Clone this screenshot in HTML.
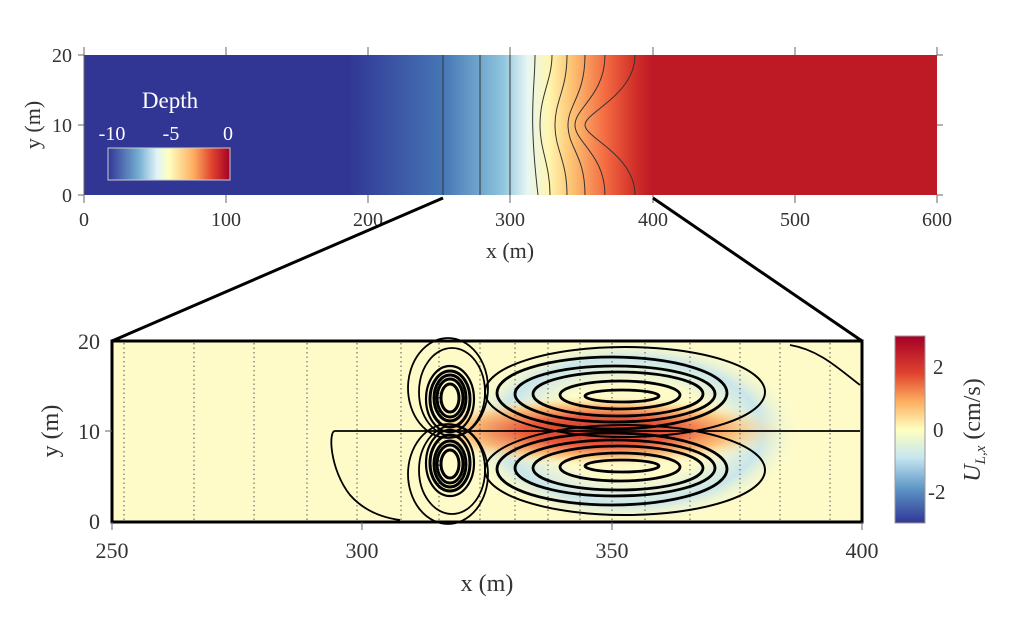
<!DOCTYPE html>
<html><head><meta charset="utf-8"><style>
html,body{margin:0;padding:0;background:#fff;}
svg{display:block;font-family:"Liberation Serif",serif;}
</style></head><body>
<svg width="1023" height="628" viewBox="0 0 1023 628" xmlns="http://www.w3.org/2000/svg">
<defs>
<linearGradient id="dep" x1="84" x2="937" y1="0" y2="0" gradientUnits="userSpaceOnUse">
<stop offset="0" stop-color="#313695"/>
<stop offset="0.31" stop-color="#313695"/>
<stop offset="0.42" stop-color="#4575b4"/>
<stop offset="0.49" stop-color="#8cc3dc"/>
<stop offset="0.52" stop-color="#e8f6f4"/>
<stop offset="0.545" stop-color="#fef6b0"/>
<stop offset="0.57" stop-color="#fdc675"/>
<stop offset="0.61" stop-color="#f46d43"/>
<stop offset="0.645" stop-color="#d33129"/>
<stop offset="0.665" stop-color="#bd1a26"/>
<stop offset="1" stop-color="#bd1a26"/>
</linearGradient>
<linearGradient id="dcb" x1="0" x2="1" y1="0" y2="0">
<stop offset="0" stop-color="#313695"/>
<stop offset="0.25" stop-color="#74add1"/>
<stop offset="0.4" stop-color="#e0f3f8"/>
<stop offset="0.5" stop-color="#ffffbf"/>
<stop offset="0.7" stop-color="#fdae61"/>
<stop offset="0.85" stop-color="#e0442f"/>
<stop offset="1" stop-color="#a50026"/>
</linearGradient>
<linearGradient id="ucb" x1="0" x2="0" y1="0" y2="1">
<stop offset="0" stop-color="#a50026"/>
<stop offset="0.2" stop-color="#e0442f"/>
<stop offset="0.35" stop-color="#fdae61"/>
<stop offset="0.5" stop-color="#ffffbf"/>
<stop offset="0.65" stop-color="#c6e6f0"/>
<stop offset="0.82" stop-color="#5b94c4"/>
<stop offset="1" stop-color="#313695"/>
</linearGradient>
<radialGradient id="jet" cx="600" cy="431" r="190" gradientUnits="userSpaceOnUse" gradientTransform="translate(600 431) scale(1 0.19) translate(-600 -431)">
<stop offset="0" stop-color="#d73027"/>
<stop offset="0.4" stop-color="#ea5a3a"/>
<stop offset="0.7" stop-color="#fdb56a" stop-opacity="0.85"/>
<stop offset="1" stop-color="#fefbc8" stop-opacity="0"/>
</radialGradient>
<radialGradient id="blu" cx="630" cy="431" r="170" gradientUnits="userSpaceOnUse" gradientTransform="translate(630 431) scale(1 0.55) translate(-630 -431)">
<stop offset="0.5" stop-color="#c8e6f0" stop-opacity="0"/>
<stop offset="0.78" stop-color="#c3e3ef" stop-opacity="0.9"/>
<stop offset="1" stop-color="#fefbc8" stop-opacity="0"/>
</radialGradient>
</defs>

<rect x="84" y="55" width="853" height="140" fill="url(#dep)"/>
<g stroke="#333" stroke-width="1" fill="none">
<line x1="443" y1="55" x2="443" y2="195"/>
<line x1="480" y1="55" x2="480" y2="195"/>
<line x1="510" y1="55" x2="510" y2="195"/>
<path d="M535 55 C535 90 528 110 538 195"/>
<path d="M552 55 C552 80 540 95 540 125 C540 150 550 165 550 195"/>
<path d="M567 55 C567 90 555 100 555 125 C555 150 567 160 567 195"/>
<path d="M585 55 C585 95 568 105 568 125 C568 148 585 155 585 195"/>
<path d="M605 55 C605 95 575 108 575 125 C575 142 605 155 605 195"/>
<path d="M635 55 C635 95 585 112 585 125 C585 138 635 155 635 195"/>
</g>
<g stroke="#666" stroke-width="1">
<line x1="84" y1="47" x2="84" y2="203"/>
<line x1="78" y1="55" x2="84" y2="55"/><line x1="78" y1="125" x2="84" y2="125"/><line x1="78" y1="195" x2="84" y2="195"/>
<line x1="937" y1="55" x2="943" y2="55"/><line x1="937" y1="125" x2="943" y2="125"/><line x1="937" y1="195" x2="943" y2="195"/>
<line x1="226" y1="47" x2="226" y2="55"/><line x1="368" y1="47" x2="368" y2="55"/><line x1="510" y1="47" x2="510" y2="55"/><line x1="653" y1="47" x2="653" y2="55"/><line x1="795" y1="47" x2="795" y2="55"/><line x1="937" y1="47" x2="937" y2="55"/>
<line x1="226" y1="195" x2="226" y2="203"/><line x1="368" y1="195" x2="368" y2="203"/><line x1="510" y1="195" x2="510" y2="203"/><line x1="653" y1="195" x2="653" y2="203"/><line x1="795" y1="195" x2="795" y2="203"/><line x1="937" y1="195" x2="937" y2="203"/>
</g>
<g font-size="20" fill="#333" text-anchor="middle">
<text x="84" y="226">0</text><text x="226" y="226">100</text><text x="368" y="226">200</text><text x="510" y="226">300</text><text x="653" y="226">400</text><text x="795" y="226">500</text><text x="937" y="226">600</text>
<text x="510" y="258" font-size="22">x (m)</text>
</g>
<g font-size="20" fill="#333" text-anchor="end">
<text x="72" y="62">20</text><text x="72" y="132">10</text><text x="72" y="202">0</text>
</g>
<text x="0" y="0" font-size="22" fill="#333" text-anchor="middle" transform="translate(40 125) rotate(-90)">y (m)</text>
<rect x="108" y="148" width="122" height="32" fill="url(#dcb)" stroke="#ccc" stroke-width="1"/>
<g fill="#fff" font-size="20" text-anchor="middle">
<text x="170" y="108" font-size="23">Depth</text>
<text x="112" y="140">-10</text><text x="171" y="140">-5</text><text x="228" y="140">0</text>
</g>

<line x1="443" y1="198" x2="112" y2="341" stroke="#000" stroke-width="3"/>
<line x1="653" y1="198" x2="862" y2="341" stroke="#000" stroke-width="3"/>

<rect x="112" y="341" width="750" height="181" fill="#fefbc8"/>
<rect x="112" y="341" width="750" height="181" fill="url(#blu)"/>
<rect x="112" y="341" width="750" height="181" fill="url(#jet)"/>
<g stroke="#555" stroke-width="1" stroke-dasharray="1.5 3" fill="none">
<line x1="124" y1="343" x2="124" y2="520"/><line x1="194" y1="343" x2="194" y2="520"/><line x1="254" y1="343" x2="254" y2="520"/><line x1="307" y1="343" x2="307" y2="520"/><line x1="357" y1="343" x2="357" y2="520"/><line x1="401" y1="343" x2="401" y2="520"/><line x1="439" y1="343" x2="439" y2="520"/><line x1="480" y1="343" x2="480" y2="520"/><line x1="515" y1="343" x2="515" y2="520"/><line x1="548" y1="343" x2="548" y2="520"/><line x1="580" y1="343" x2="580" y2="520"/><line x1="612" y1="343" x2="612" y2="520"/><line x1="645" y1="343" x2="645" y2="520"/><line x1="690" y1="343" x2="690" y2="520"/><line x1="740" y1="343" x2="740" y2="520"/><line x1="780" y1="343" x2="780" y2="520"/><line x1="830" y1="343" x2="830" y2="520"/>
</g>
<g stroke="#000" fill="none">
<path d="M860 431 L335 431 C328 431 330 470 350 495 C365 512 385 518 400 520" stroke-width="1.8"/>
<path d="M860 385 C840 370 820 350 790 345" stroke-width="1.8"/>
<g stroke-width="3">
<ellipse cx="450" cy="398" rx="9" ry="14"/><ellipse cx="450" cy="398" rx="13" ry="19"/><ellipse cx="450" cy="398" rx="16" ry="23"/><ellipse cx="450" cy="399" rx="20" ry="28"/><ellipse cx="450" cy="399" rx="24" ry="33" stroke-width="2.2"/><ellipse cx="452" cy="392" rx="33" ry="44" stroke-width="1.8"/><ellipse cx="448" cy="388" rx="40" ry="50" stroke-width="1.8"/>
<ellipse cx="450" cy="464" rx="9" ry="14"/><ellipse cx="450" cy="464" rx="13" ry="19"/><ellipse cx="450" cy="464" rx="16" ry="23"/><ellipse cx="450" cy="463" rx="20" ry="28"/><ellipse cx="450" cy="463" rx="24" ry="33" stroke-width="2.2"/><ellipse cx="452" cy="470" rx="33" ry="44" stroke-width="1.8"/><ellipse cx="448" cy="474" rx="40" ry="50" stroke-width="1.8"/>
</g>
<g stroke-width="2.8">
<ellipse cx="622" cy="396" rx="37" ry="6"/><ellipse cx="620" cy="395" rx="60" ry="14"/><ellipse cx="618" cy="394" rx="85" ry="22"/><ellipse cx="615" cy="394" rx="100" ry="28"/><ellipse cx="612" cy="393" rx="115" ry="36"/><ellipse cx="625" cy="392" rx="140" ry="45" stroke-width="2"/>
<ellipse cx="622" cy="466" rx="37" ry="6"/><ellipse cx="620" cy="467" rx="60" ry="14"/><ellipse cx="618" cy="468" rx="85" ry="22"/><ellipse cx="615" cy="468" rx="100" ry="28"/><ellipse cx="612" cy="469" rx="115" ry="36"/><ellipse cx="625" cy="470" rx="140" ry="45" stroke-width="2"/>
</g>
</g>
<rect x="112" y="341" width="750" height="181" fill="none" stroke="#000" stroke-width="3"/>
<g stroke="#666" stroke-width="1">
<line x1="112" y1="522" x2="112" y2="530"/><line x1="362" y1="522" x2="362" y2="530"/><line x1="612" y1="522" x2="612" y2="530"/><line x1="862" y1="522" x2="862" y2="530"/>
<line x1="105" y1="431" x2="112" y2="431"/>
</g>
<g font-size="22" fill="#333" text-anchor="middle">
<text x="112" y="558">250</text><text x="362" y="558">300</text><text x="612" y="558">350</text><text x="862" y="558">400</text>
<text x="487" y="591" font-size="24">x (m)</text>
</g>
<g font-size="22" fill="#333" text-anchor="end">
<text x="100" y="349">20</text><text x="100" y="439">10</text><text x="100" y="529">0</text>
</g>
<text x="0" y="0" font-size="24" fill="#333" text-anchor="middle" transform="translate(58 431) rotate(-90)">y (m)</text>
<rect x="895" y="336" width="30" height="187" fill="url(#ucb)" stroke="#999" stroke-width="1"/>
<g font-size="21" fill="#333">
<text x="933" y="374">2</text><text x="933" y="437">0</text><text x="928" y="499">-2</text>
</g>
<text x="0" y="0" font-size="24" fill="#333" text-anchor="middle" transform="translate(980 430) rotate(-90)"><tspan font-style="italic">U</tspan><tspan font-style="italic" font-size="15" dy="5">L,x</tspan><tspan dy="-5">  (cm/s)</tspan></text>
</svg>
</body></html>
